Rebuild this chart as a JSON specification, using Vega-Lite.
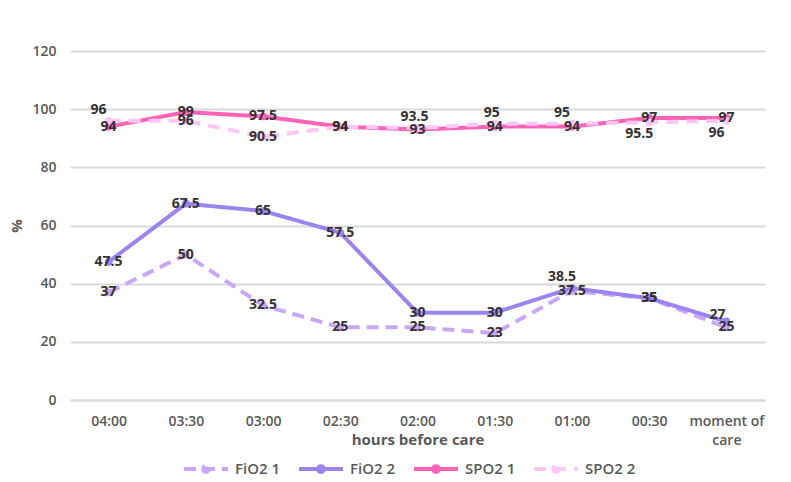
{
  "$schema": "https://vega.github.io/schema/vega-lite/v6.json",
  "autosize": "none",
  "width": 695,
  "height": 349,
  "padding": {"left": 70, "top": 51, "right": 26, "bottom": 82},
  "background": "white",
  "config": {
    "view": {"stroke": null},
    "font": "Open Sans",
    "axis": {"labelFont": "Open Sans", "titleFont": "Open Sans"},
    "legend": {"labelFont": "Open Sans"}
  },
  "data": {
    "values": [
      {"time": "04:00", "series": "FiO2 1", "value": 37},
      {"time": "03:30", "series": "FiO2 1", "value": 50},
      {"time": "03:00", "series": "FiO2 1", "value": 32.5},
      {"time": "02:30", "series": "FiO2 1", "value": 25},
      {"time": "02:00", "series": "FiO2 1", "value": 25},
      {"time": "01:30", "series": "FiO2 1", "value": 23},
      {"time": "01:00", "series": "FiO2 1", "value": 37.5},
      {"time": "00:30", "series": "FiO2 1", "value": 35},
      {"time": "moment of care", "series": "FiO2 1", "value": 25},
      {"time": "04:00", "series": "FiO2 2", "value": 47.5},
      {"time": "03:30", "series": "FiO2 2", "value": 67.5},
      {"time": "03:00", "series": "FiO2 2", "value": 65},
      {"time": "02:30", "series": "FiO2 2", "value": 57.5},
      {"time": "02:00", "series": "FiO2 2", "value": 30},
      {"time": "01:30", "series": "FiO2 2", "value": 30},
      {"time": "01:00", "series": "FiO2 2", "value": 38.5},
      {"time": "00:30", "series": "FiO2 2", "value": 35},
      {"time": "moment of care", "series": "FiO2 2", "value": 27},
      {"time": "04:00", "series": "SPO2 1", "value": 94},
      {"time": "03:30", "series": "SPO2 1", "value": 99},
      {"time": "03:00", "series": "SPO2 1", "value": 97.5},
      {"time": "02:30", "series": "SPO2 1", "value": 94},
      {"time": "02:00", "series": "SPO2 1", "value": 93},
      {"time": "01:30", "series": "SPO2 1", "value": 94},
      {"time": "01:00", "series": "SPO2 1", "value": 94},
      {"time": "00:30", "series": "SPO2 1", "value": 97},
      {"time": "moment of care", "series": "SPO2 1", "value": 97},
      {"time": "04:00", "series": "SPO2 2", "value": 96},
      {"time": "03:30", "series": "SPO2 2", "value": 96},
      {"time": "03:00", "series": "SPO2 2", "value": 90.5},
      {"time": "02:30", "series": "SPO2 2", "value": 94},
      {"time": "02:00", "series": "SPO2 2", "value": 93.5},
      {"time": "01:30", "series": "SPO2 2", "value": 95},
      {"time": "01:00", "series": "SPO2 2", "value": 95},
      {"time": "00:30", "series": "SPO2 2", "value": 95.5},
      {"time": "moment of care", "series": "SPO2 2", "value": 96}
    ]
  },
  "encoding": {
    "x": {
      "field": "time", "type": "ordinal", "sort": null,
      "scale": {"type": "point", "padding": 0.5},
      "axis": {
        "title": "hours before care",
        "titleFontSize": 15, "titleFontWeight": "bold", "titleColor": "#595959", "titlePadding": -15,
        "labelAngle": 0, "labelFontSize": 14, "labelColor": "#595959", "labelFontWeight": 600,
        "labelPadding": 14, "ticks": false, "domain": true, "domainColor": "#d9d9d9", "domainWidth": 2,
        "labelExpr": "datum.label == 'moment of care' ? ['moment of', 'care'] : datum.label",
        "labelLineHeight": 19
      }
    },
    "y": {
      "field": "value", "type": "quantitative",
      "scale": {"domain": [0, 120]},
      "axis": {
        "title": "%", "titleFontSize": 15, "titleFontWeight": "bold", "titleColor": "#595959", "titlePadding": 7,
        "values": [0, 20, 40, 60, 80, 100, 120],
        "labelFontSize": 14, "labelColor": "#595959", "labelFontWeight": 600, "labelPadding": 14,
        "ticks": false, "domain": false, "gridColor": "#d9d9d9", "gridWidth": 2
      }
    }
  },
  "layer": [
    {
      "mark": {"type": "line", "strokeWidth": 4, "point": {"filled": true, "size": 60}},
      "encoding": {
        "color": {
          "field": "series", "type": "nominal",
          "scale": {"domain": ["FiO2 1", "FiO2 2", "SPO2 1", "SPO2 2"], "range": ["#c9a6f8", "#9c84ee", "#ff63b8", "#ffc6f4"]},
          "legend": {
            "title": null, "orient": "none", "direction": "horizontal", "legendX": 112, "legendY": 394,
            "labelFontSize": 15, "labelColor": "#595959", "labelFontWeight": 600, "labelOffset": 5,
            "symbolType": "M-1,0L1,0M0.13,0A0.13,0.13,0,1,1,-0.13,0A0.13,0.13,0,1,1,0.13,0Z",
            "symbolSize": 1936, "symbolStrokeWidth": 4, "columnPadding": 10,
            "encode": {"symbols": {"update": {
              "fill": {"scale": "color", "field": "value"},
              "strokeDash": {"signal": "datum.value == 'FiO2 1' || datum.value == 'SPO2 2' ? [16, 12, 16, 300] : [1, 0]"}
            }}}
          }
        },
        "strokeDash": {
          "field": "series", "type": "nominal",
          "scale": {"domain": ["FiO2 1", "FiO2 2", "SPO2 1", "SPO2 2"], "range": [[12, 7], [1, 0], [1, 0], [12, 8]]},
          "legend": null
        }
      }
    },
    {
      "transform": [{"filter": "!((datum.series == 'SPO2 2' && indexof(['04:00','02:00','01:30','01:00','00:30','moment of care'], datum.time) >= 0) || (datum.series == 'FiO2 2' && indexof(['01:00','moment of care'], datum.time) >= 0))"}],
      "mark": {"type": "text", "fontSize": 14, "fontWeight": "bold", "color": "#333333"},
      "encoding": {"text": {"field": "value", "type": "quantitative"}}
    },
    {
      "transform": [{"filter": "(datum.series == 'SPO2 2' && indexof(['04:00','01:00'], datum.time) >= 0) || (datum.series == 'FiO2 2' && datum.time == '01:00')"}],
      "mark": {"type": "text", "fontSize": 14, "fontWeight": "bold", "color": "#333333", "dy": -11, "dx": -10},
      "encoding": {"text": {"field": "value", "type": "quantitative"}}
    },
    {
      "transform": [{"filter": "datum.series == 'SPO2 2' && indexof(['02:00','01:30'], datum.time) >= 0"}],
      "mark": {"type": "text", "fontSize": 14, "fontWeight": "bold", "color": "#333333", "dy": -11, "dx": -3},
      "encoding": {"text": {"field": "value", "type": "quantitative"}}
    },
    {
      "transform": [{"filter": "datum.series == 'FiO2 2' && datum.time == 'moment of care'"}],
      "mark": {"type": "text", "fontSize": 14, "fontWeight": "bold", "color": "#333333", "dy": -6, "dx": -9},
      "encoding": {"text": {"field": "value", "type": "quantitative"}}
    },
    {
      "transform": [{"filter": "datum.series == 'SPO2 2' && indexof(['00:30','moment of care'], datum.time) >= 0"}],
      "mark": {"type": "text", "fontSize": 14, "fontWeight": "bold", "color": "#333333", "dy": 12, "dx": -10},
      "encoding": {"text": {"field": "value", "type": "quantitative"}}
    }
  ]
}
